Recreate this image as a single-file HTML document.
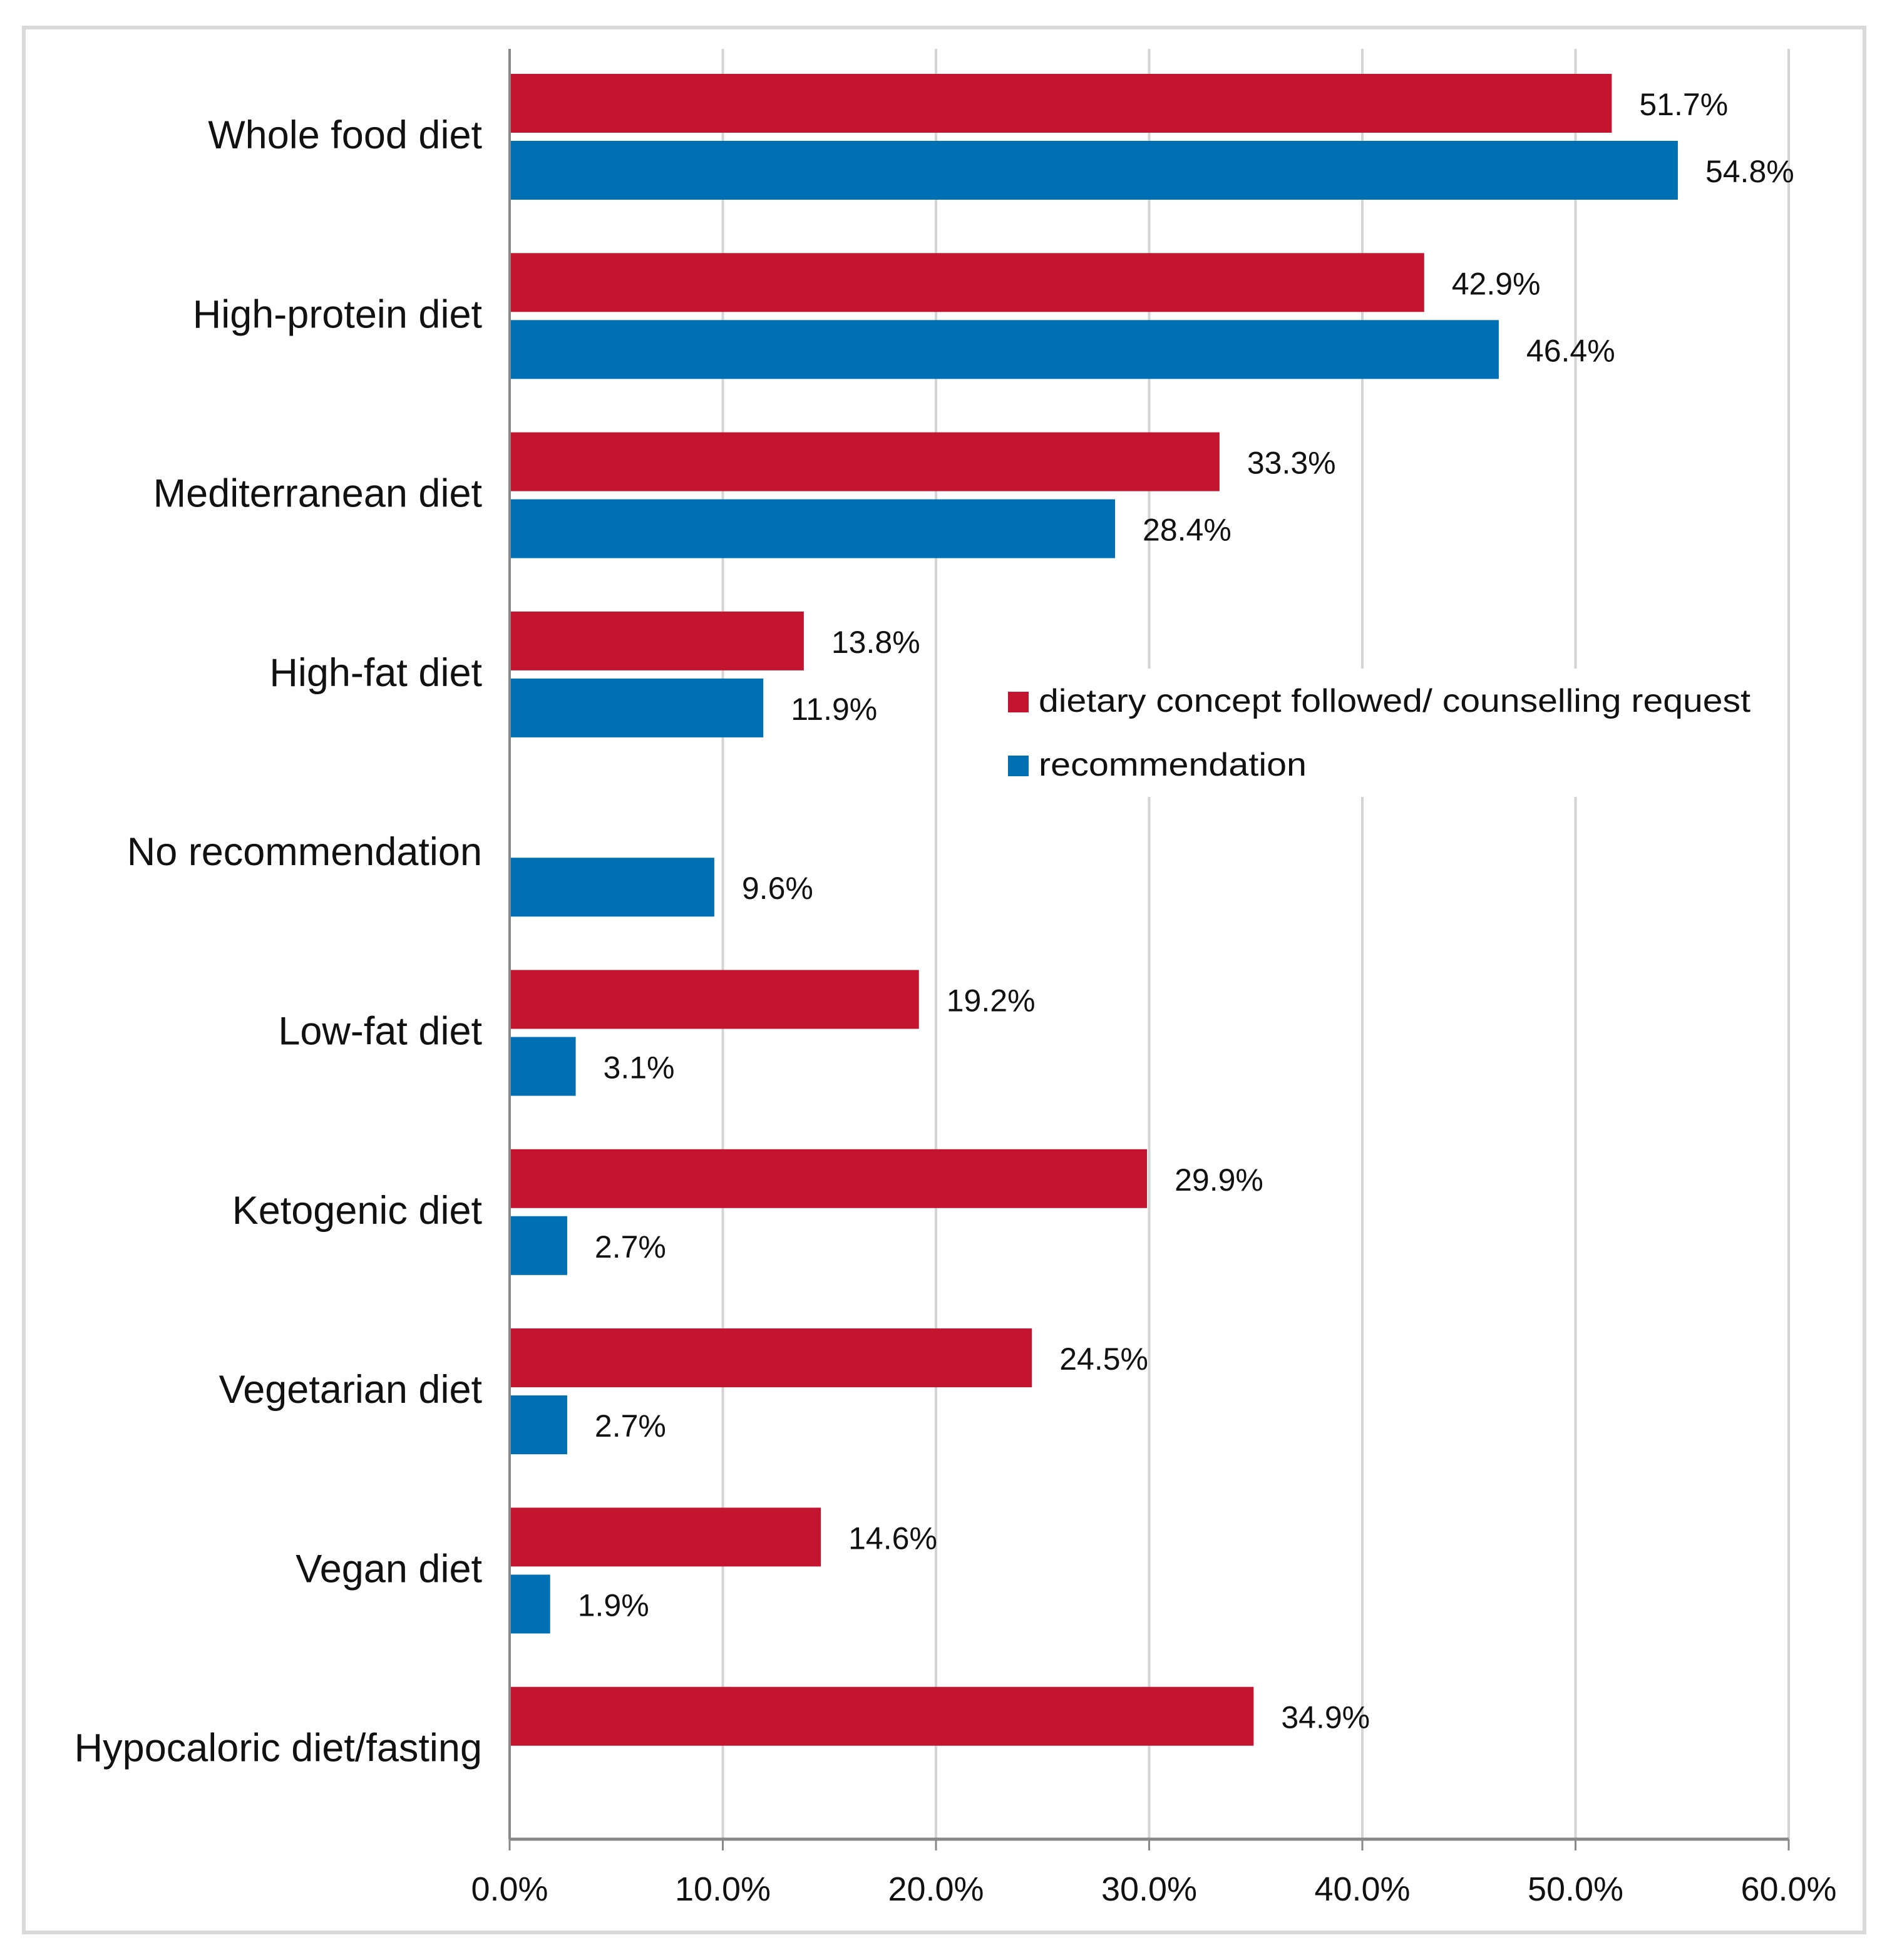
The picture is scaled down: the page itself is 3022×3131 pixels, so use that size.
<!DOCTYPE html>
<html><head><meta charset="utf-8"><style>
html,body{margin:0;padding:0;background:#fff}
svg{display:block}
text{font-family:"Liberation Sans",sans-serif;fill:#111}
</style></head><body>
<svg id="chart" width="3022" height="3131" viewBox="0 0 3022 3131" xmlns="http://www.w3.org/2000/svg">
<rect x="38" y="44" width="2940" height="3043" fill="#fff" stroke="#d9d9d9" stroke-width="6"/>
<g id="grid"></g>
<g id="bars"></g>
<g id="labels"></g>
<g id="legend">
<rect x="1580" y="1068" width="1250" height="205" fill="#fff"/>
<rect x="1610" y="1105" width="33" height="33" fill="#C41530"/>
<text x="1659" y="1137" font-size="52" textLength="1137" lengthAdjust="spacingAndGlyphs">dietary concept followed/ counselling request</text>
<rect x="1610" y="1207" width="33" height="33" fill="#0070B5"/>
<text x="1659" y="1239" font-size="52" textLength="428" lengthAdjust="spacingAndGlyphs">recommendation</text>
</g>
</svg>
<script>
const categories = ["Whole food diet","High-protein diet","Mediterranean diet","High-fat diet","No recommendation","Low-fat diet","Ketogenic diet","Vegetarian diet","Vegan diet","Hypocaloric diet/fasting"];
const followedValues = [51.7,42.9,33.3,13.8,null,19.2,29.9,24.5,14.6,34.9];
const recommendationValues = [54.8,46.4,28.4,11.9,9.6,3.1,2.7,2.7,1.9,null];
const tickValues = [0,10,20,30,40,50,60];
const tickLabels = ["0.0%","10.0%","20.0%","30.0%","40.0%","50.0%","60.0%"];

const NS="http://www.w3.org/2000/svg";
const x0=814, pxPer=34.05, top0=72, band=286.3, axisY=2938;
const xs=v=>x0+v*pxPer;
const bandTop=i=>top0+i*band;
function mk(tag,attrs,parent,txt){const e=document.createElementNS(NS,tag);for(const k in attrs)e.setAttribute(k,attrs[k]);if(txt!=null)e.textContent=txt;parent.appendChild(e);return e;}
const grid=document.getElementById('grid'),bars=document.getElementById('bars'),labels=document.getElementById('labels');
tickValues.forEach((t,i)=>{
  if(i>0){const g=mk('line',{x1:xs(t),x2:xs(t),y1:78,y2:axisY,stroke:'#d4d4d4','stroke-width':4},grid);
  
  }
  const tk=mk('line',{x1:xs(t),x2:xs(t),y1:axisY,y2:axisY+18,stroke:'#888','stroke-width':3},grid);
  
  
  const tl=mk('text',{x:xs(t),y:3036,'font-size':54,'text-anchor':'middle'},labels,tickLabels[i]);
  
  
});
const ya=mk('line',{x1:x0,x2:x0,y1:78,y2:axisY,stroke:'#888','stroke-width':4},grid);


const xa=mk('line',{x1:x0,x2:xs(60),y1:axisY,y2:axisY,stroke:'#888','stroke-width':5},grid);


categories.forEach((c,i)=>{
  const t=bandTop(i);
  const cl=mk('text',{x:770,y:t+165,'font-size':63,'text-anchor':'end'},labels,c);
  
  
  const series=[[followedValues[i],'#C41530',46,'followed'],[recommendationValues[i],'#0070B5',153,'recommendation']];
  series.forEach(([v,col,off,nm])=>{
    if(v==null)return;
    const b=mk('rect',{x:x0+2,y:t+off,width:xs(v)-x0-2,height:94,fill:col},bars);
    
    
    const vl=mk('text',{x:xs(v)+44,y:t+off+66,'font-size':50},labels,v.toFixed(1)+'%');
    
    
  });
});
document.getElementById('chart').appendChild(document.getElementById('legend'));
</script>
</body></html>
